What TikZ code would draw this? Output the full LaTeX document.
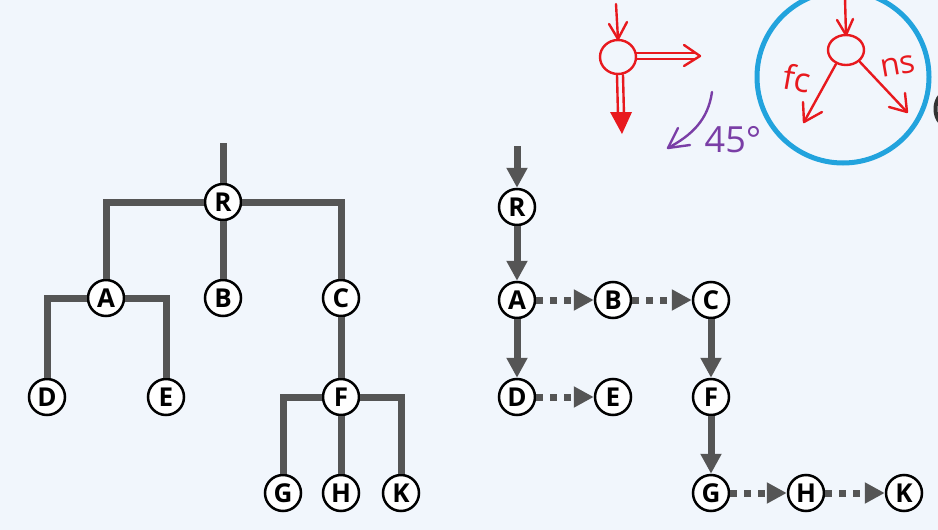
\documentclass[tikz,border=0pt]{standalone}
\usepackage{fontspec}
\setmainfont{Open Sans}
\usetikzlibrary{arrows.meta}
\definecolor{bg}{HTML}{F1F6FC}
\definecolor{edge}{HTML}{555555}
\definecolor{pen}{HTML}{E8191E}
\definecolor{ring}{HTML}{22A3DD}
\definecolor{ink}{HTML}{7A3EA6}

\begin{document}
\begin{tikzpicture}[x=1pt,y=-1pt,
    vtx/.style={circle, draw=black, line width=2.5pt, fill=white,
      minimum size=36pt, inner sep=0pt, font=\bfseries\fontsize{26}{26}\selectfont},
    branch/.style={edge, line width=7pt},
    link/.style={edge, line width=7pt, -{Triangle[length=20pt,width=20pt]}},
    sib/.style={link, dash pattern=on 7pt off 7pt},
    sketch/.style={line width=2.4pt, line cap=round, line join=round}]
  \fill[bg] (0,0) rectangle (938,530);
  \useasboundingbox (0,0) rectangle (938,530);
  \clip (0,0) rectangle (938,530);

  % General tree
  \coordinate (top) at (223,143);
  \node[vtx] (R) at (223,202) {R};
  \node[vtx] (A) at (106,298) {A};
  \node[vtx] (B) at (223,298) {B};
  \node[vtx] (C) at (341,298) {C};
  \node[vtx] (D) at (47,397) {D};
  \node[vtx] (E) at (166,397) {E};
  \node[vtx] (F) at (341,397) {F};
  \node[vtx] (G) at (283,493) {G};
  \node[vtx] (H) at (341,493) {H};
  \node[vtx] (K) at (401,493) {K};

  \draw[branch] (top) -- (R);
  \draw[branch] (R) -| (A);
  \draw[branch] (R) -- (B);
  \draw[branch] (R) -| (C);
  \draw[branch] (A) -| (D);
  \draw[branch] (A) -| (E);
  \draw[branch] (C) -- (F);
  \draw[branch] (F) -| (G);
  \draw[branch] (F) -- (H);
  \draw[branch] (F) -| (K);

  % First child / next sibling form
  \coordinate (start) at (517,146);
  \node[vtx] (r) at (517,207) {R};
  \node[vtx] (a) at (517,300) {A};
  \node[vtx] (b) at (613,300) {B};
  \node[vtx] (c) at (711,300) {C};
  \node[vtx] (d) at (517,397) {D};
  \node[vtx] (e) at (613,397) {E};
  \node[vtx] (f) at (711,397) {F};
  \node[vtx] (g) at (711,493) {G};
  \node[vtx] (h) at (806,493) {H};
  \node[vtx] (k) at (904,493) {K};

  \draw[link] (start) -- (r);
  \draw[link] (r) -- (a);
  \draw[link] (a) -- (d);
  \draw[link] (c) -- (f);
  \draw[link] (f) -- (g);
  \draw[sib] (a) -- (b);
  \draw[sib] (b) -- (c);
  \draw[sib] (d) -- (e);
  \draw[sib] (g) -- (h);
  \draw[sib] (h) -- (k);

  % Hand sketch: before
  \draw[sketch, pen] (618,57) ellipse [x radius=18, y radius=17];
  \draw[sketch, pen] (616,4) -- (618,39);
  \draw[sketch, pen] (609,24) -- (618,39) -- (627,22);
  \draw[sketch, pen] (636,53) -- (695,53);
  \draw[sketch, pen] (636,59) -- (695,59);
  \draw[sketch, pen] (684,45) -- (700,56) -- (684,66);
  \draw[sketch, pen] (617,75) -- (618,115);
  \draw[sketch, pen] (623,75) -- (624,115);
  \fill[pen] (610,112) -- (632,112) -- (622,134) -- cycle;

  % Rotation
  \draw[sketch, ink] (712,92) .. controls (708,120) and (692,135) .. (668,148);
  \draw[sketch, ink] (678,128) -- (668,148) -- (690,145);
  \node[ink, font=\fontsize{36}{36}\selectfont, inner sep=0pt] (deg) at (733,140) {45°};

  % Hand sketch: after
  \draw[ring, line width=5pt] (843,77) circle [radius=86];
  \draw[sketch, pen] (846,50) ellipse [x radius=18, y radius=15];
  \draw[sketch, pen] (845,-2) -- (846,35);
  \draw[sketch, pen] (837,20) -- (846,35) -- (853,19);
  \draw[sketch, pen] (836,64) -- (804,122);
  \draw[sketch, pen] (803,102) -- (804,122) -- (822,112);
  \draw[sketch, pen] (860,62) -- (907,112);
  \draw[sketch, pen] (889,107) -- (907,112) -- (905,93);
  \node[pen, font=\fontsize{34}{34}\selectfont, inner sep=0pt, rotate=-10] (fc) at (797,78) {fc};
  \node[pen, font=\fontsize{32}{32}\selectfont, inner sep=0pt, rotate=10] (ns) at (898,66) {ns};
  \draw[line width=4pt, black!80] (940,96) .. controls (934,102) and (934,116) .. (940,122);
\end{tikzpicture}
\end{document}
